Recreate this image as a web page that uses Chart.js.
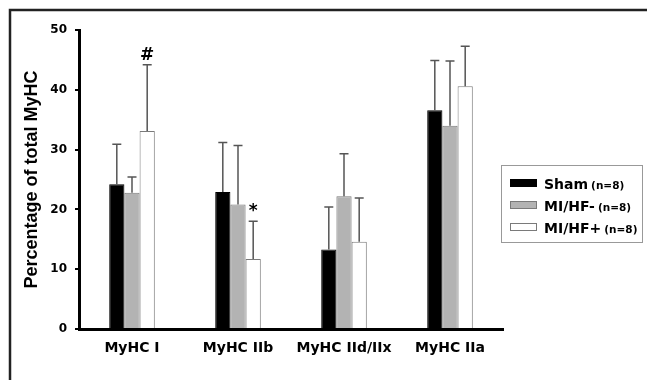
<!DOCTYPE html>
<html>
<head>
<meta charset="utf-8">
<script src="https://cdn.jsdelivr.net/npm/chart.js@4/dist/chart.umd.min.js"></script>
<style>
  html, body { margin: 0; padding: 0; background: #fff; }
  canvas { display: block; }
</style>
</head>
<body>
<canvas id="myChart" width="647" height="380"></canvas>
<script>
const categories = ['MyHC I', 'MyHC IIb', 'MyHC IId/IIx', 'MyHC IIa'];
const groupNames = ['Sham', 'MI/HF-', 'MI/HF+'];
const groupSizes = ['(n=8)', '(n=8)', '(n=8)'];
const sham = [24.2, 22.9, 13.3, 36.6];
const shamErr = [6.7, 8.3, 7.1, 8.3];
const hfMinus = [22.8, 20.8, 22.2, 34.0];
const hfMinusErr = [2.6, 9.9, 7.1, 10.8];
const hfPlus = [33.1, 11.7, 14.6, 40.6];
const hfPlusErr = [11.1, 6.3, 7.3, 6.7];
const hfPlusMarks = ['#', '*', '', ''];
const yTicks = [0, 10, 20, 30, 40, 50];

// frame round the figure + white background
const framePlugin = {
  id: 'frame',
  beforeDraw(chart) {
    const c = chart.ctx;
    c.save();
    c.fillStyle = '#fff';
    c.fillRect(0, 0, chart.width, chart.height);
    c.strokeStyle = '#222';
    c.lineWidth = 2.5;
    c.beginPath();
    c.moveTo(10, chart.height);
    c.lineTo(10, 10);
    c.lineTo(chart.width, 10);
    c.stroke();
    c.restore();
  }
};

// upward error bars and significance marks
const errorPlugin = {
  id: 'errors',
  afterDatasetsDraw(chart) {
    const c = chart.ctx;
    const y = chart.scales.y;
    c.save();
    chart.data.datasets.forEach((ds, di) => {
      const meta = chart.getDatasetMeta(di);
      meta.data.forEach((bar, i) => {
        const top = y.getPixelForValue(ds.data[i]);
        const end = y.getPixelForValue(ds.data[i] + ds.err[i]);
        c.strokeStyle = '#555';
        c.lineWidth = 1.5;
        c.beginPath();
        c.moveTo(bar.x, top);
        c.lineTo(bar.x, end);
        c.moveTo(bar.x - 4.5, end);
        c.lineTo(bar.x + 4.5, end);
        c.stroke();
        if (ds.marks && ds.marks[i]) {
          c.fillStyle = '#000';
          c.font = 'bold 17px "DejaVu Sans"';
          c.textAlign = 'center';
          c.textBaseline = 'alphabetic';
          c.fillText(ds.marks[i], bar.x, end - 5);
        }
      });
    });
    c.restore();
  }
};

// boxed legend on the right
const legendPlugin = {
  id: 'boxLegend',
  afterDraw(chart) {
    const c = chart.ctx;
    const bx = 501, by = 165, bw = 141, bh = 77;
    c.save();
    c.strokeStyle = '#999';
    c.lineWidth = 1;
    c.strokeRect(bx + 0.5, by + 0.5, bw, bh);
    chart.data.datasets.forEach((ds, i) => {
      const cy = 183 + i * 22;
      c.fillStyle = ds.backgroundColor;
      c.fillRect(510, cy - 3.5, 27, 7);
      c.strokeStyle = ds.borderColor;
      c.lineWidth = 1;
      c.strokeRect(510.5, cy - 3.5, 26, 7);
      c.fillStyle = '#000';
      c.textAlign = 'left';
      c.textBaseline = 'alphabetic';
      c.font = 'bold 14px "DejaVu Sans"';
      c.fillText(ds.label, 544, cy + 5.5);
      const w = c.measureText(ds.label).width;
      c.font = 'bold 10.5px "DejaVu Sans"';
      c.fillText(groupSizes[i], 544 + w + 3, cy + 5.5);
    });
    c.restore();
  }
};

const ctx = document.getElementById('myChart').getContext('2d');
// eslint-disable-next-line no-unused-vars
const chart = new Chart(ctx, {
  type: 'bar',
  data: {
    labels: categories,
    datasets: [{
      label: groupNames[0],
      data: sham,
      err: shamErr,
      backgroundColor: '#000000',
      borderColor: '#000000',
      borderWidth: 1,
    }, {
      label: groupNames[1],
      data: hfMinus,
      err: hfMinusErr,
      backgroundColor: '#b3b3b3',
      borderColor: '#7a7a7a',
      borderWidth: 1,
    }, {
      label: groupNames[2],
      data: hfPlus,
      err: hfPlusErr,
      marks: hfPlusMarks,
      backgroundColor: '#ffffff',
      borderColor: '#7a7a7a',
      borderWidth: 1,
    }]
  },
  options: {
    responsive: false,
    animation: false,
    devicePixelRatio: 1,
    categoryPercentage: 0.43,
    barPercentage: 1,
    layout: { padding: { left: 0, top: 30, right: 144, bottom: 0 } },
    plugins: {
      legend: { display: false },
      tooltip: { enabled: false },
    },
    scales: {
      x: {
        grid: { display: false, drawTicks: false },
        border: { display: true, color: '#000', width: 3 },
        ticks: {
          color: '#000',
          font: { family: 'DejaVu Sans', size: 14, weight: 'bold' },
          padding: 11,
          maxRotation: 0,
        },
        afterFit(scale) { scale.height = 51; },
      },
      y: {
        min: 0,
        max: 50,
        afterBuildTicks(scale) { scale.ticks = yTicks.map(v => ({ value: v })); },
        grid: { drawOnChartArea: false, drawTicks: true, tickLength: 4, color: '#000', lineWidth: 2 },
        border: { display: true, color: '#000', width: 3 },
        ticks: {
          color: '#000',
          font: { family: 'DejaVu Sans', size: 12, weight: 'bold' },
          padding: 8,
        },
        title: {
          display: true,
          text: 'Percentage of total MyHC',
          color: '#000',
          font: { family: 'Liberation Sans', size: 18, weight: 'bold' },
          padding: { top: 21, bottom: 0 },
        },
        afterFit(scale) { scale.width = 79; },
      }
    }
  },
  plugins: [framePlugin, errorPlugin, legendPlugin],
});
</script>
</body>
</html>
